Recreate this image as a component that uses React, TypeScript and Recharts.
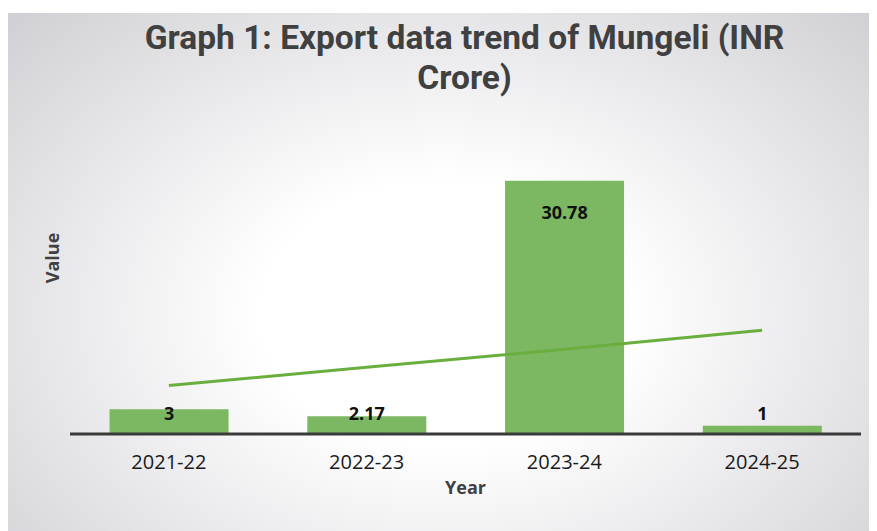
import { Bar, ComposedChart, LabelList, Line, XAxis, YAxis } from 'recharts'

const years = ['2021-22', '2022-23', '2023-24', '2024-25']
const exportValues = [3, 2.17, 30.78, 1]
const trendValues = [5.9, 8.1, 10.3, 12.6]

const data = years.map((year, i) => ({
	year,
	value: exportValues[i],
	trend: trendValues[i],
}))

const W = 869
const H = 518

const BarLabel = (props: any) => {
	const { x, y, width, height, value } = props
	const base = y + height
	const ty = Math.min(y + 31, base - 21)
	return (
		<text
			x={x + width / 2}
			y={ty}
			textAnchor='middle'
			dominantBaseline='central'
			fontFamily='Open Sans, sans-serif'
			fontWeight={700}
			fontSize={18}
			fill='#111'
		>
			{value}
		</text>
	)
}

const App = () => {
	return (
		<div style={{ paddingTop: 5 }}>
			<div
				style={{
					position: 'relative',
					width: W,
					height: H,
					background:
						'radial-gradient(ellipse 70% 85% at 50% 58%, #ffffff 30%, #eeeef0 55%, #cfcfd3 100%)',
				}}
			>
				<div
					style={{
						position: 'absolute',
						left: 22,
						top: 5,
						width: W,
						textAlign: 'center',
						fontFamily: 'Roboto, sans-serif',
						fontWeight: 700,
						fontSize: 33.5,
						lineHeight: '40px',
						color: '#404040',
						whiteSpace: 'nowrap',
					}}
				>
					Graph 1: Export data trend of Mungeli (INR
					<br />
					Crore)
				</div>
				<div
					style={{
						position: 'absolute',
						left: 44,
						top: 245,
						transform: 'translate(-50%, -50%) rotate(-90deg)',
						fontFamily: 'Open Sans, sans-serif',
						fontWeight: 700,
						fontSize: 18,
						color: '#404040',
					}}
				>
					Value
				</div>
				<ComposedChart
					width={W}
					height={H}
					data={data}
					margin={{ top: 133, right: 16, bottom: 0, left: 62 }}
					barCategoryGap='20%'
				>
					<XAxis
						dataKey='year'
						height={97}
						axisLine={{ stroke: '#3a3a3a', strokeWidth: 3 }}
						tickLine={false}
						tick={{
							fontFamily: 'Open Sans, sans-serif',
							fontSize: 20,
							fill: '#1a1a1a',
						}}
						tickMargin={15}
						label={{
							value: 'Year',
							position: 'insideTop',
							offset: 47,
							style: {
								fontFamily: 'Open Sans, sans-serif',
								fontWeight: 700,
								fontSize: 18,
								fill: '#404040',
							},
						}}
					/>
					<YAxis hide domain={[0, 35]} />
					<Bar dataKey='value' fill='#7cb862' isAnimationActive={false}>
						<LabelList dataKey='value' content={BarLabel} />
					</Bar>
					<Line
						type='linear'
						dataKey='trend'
						stroke='#6aaf3e'
						strokeWidth={3}
						dot={false}
						activeDot={false}
						isAnimationActive={false}
					/>
				</ComposedChart>
			</div>
		</div>
	)
}

export default App
